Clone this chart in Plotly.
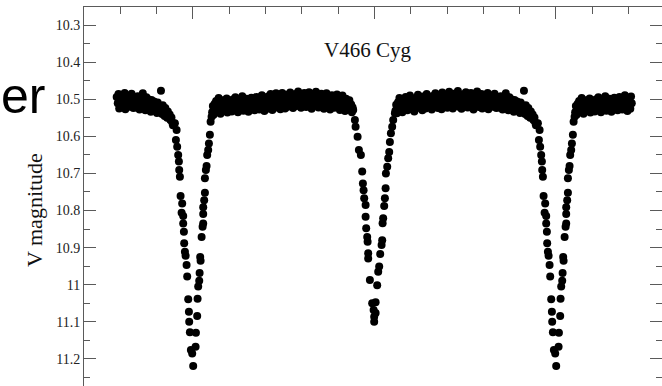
import plotly.graph_objects as go

# Phase-folded V-band light curve of the eclipsing binary V466 Cyg.
# Each list holds (orbital phase, V magnitude) pairs for one cycle; the
# plot repeats the cycle so phases -0.2 .. 1.2 are covered.

PRIMARY_ECLIPSE = [
    (-0.0496, 10.565), (-0.0449, 10.583), (-0.0468, 10.610), (-0.0433, 10.628),
    (-0.0405, 10.650), (-0.0386, 10.668), (-0.0377, 10.691), (-0.0358, 10.709),
    (-0.0339, 10.761), (-0.0295, 10.781), (-0.0311, 10.806), (-0.0267, 10.815),
    (-0.0267, 10.835), (-0.0248, 10.857), (-0.0240, 10.888), (-0.0220, 10.911),
    (-0.0201, 10.922), (-0.0174, 10.947), (-0.0157, 10.978), (-0.0129, 11.039),
    (-0.0110, 11.073), (-0.0102, 11.100), (-0.0083, 11.128), (-0.0055, 11.176),
    (-0.0019, 11.185), (0.0008, 11.219),
    (0.0074, 11.167), (0.0083, 11.129), (0.0118, 11.084), (0.0129, 11.038),
    (0.0146, 11.005), (0.0174, 10.989), (0.0185, 10.968), (0.0212, 10.935),
    (0.0201, 10.925), (0.0240, 10.871), (0.0267, 10.844), (0.0284, 10.835),
    (0.0284, 10.809), (0.0284, 10.791), (0.0311, 10.772), (0.0331, 10.752),
    (0.0331, 10.713), (0.0358, 10.691), (0.0377, 10.680), (0.0394, 10.650),
    (0.0421, 10.637), (0.0441, 10.619), (0.0468, 10.596), (0.0488, 10.561),
    (0.0515, 10.547),
]

SECONDARY_ECLIPSE = [
    (0.4416, 10.529), (0.4463, 10.556), (0.4482, 10.574), (0.4537, 10.601),
    (0.4573, 10.637), (0.4628, 10.650), (0.4664, 10.695), (0.4683, 10.727),
    (0.4702, 10.745), (0.4719, 10.767), (0.4758, 10.785), (0.4758, 10.817),
    (0.4774, 10.848), (0.4802, 10.871), (0.4813, 10.884), (0.4829, 10.915),
    (0.4829, 10.929), (0.4876, 10.987), (0.4939, 11.050), (0.4978, 11.068),
    (0.4994, 11.086), (0.4994, 11.100), (0.5033, 11.047), (0.5033, 11.076),
    (0.5077, 11.001), (0.5105, 10.965), (0.5132, 10.951), (0.5160, 10.917),
    (0.5198, 10.893), (0.5215, 10.880), (0.5226, 10.834), (0.5242, 10.821),
    (0.5270, 10.788), (0.5289, 10.767), (0.5309, 10.740), (0.5317, 10.700),
    (0.5353, 10.682), (0.5380, 10.659), (0.5408, 10.642), (0.5427, 10.615),
    (0.5455, 10.592), (0.5490, 10.574), (0.5518, 10.556), (0.5565, 10.538),
]

OUT_OF_ECLIPSE_A = [
    (0.053, 10.535), (0.055, 10.518), (0.057, 10.542), (0.060, 10.512), (0.062, 10.528),
    (0.064, 10.505), (0.067, 10.533), (0.069, 10.521), (0.071, 10.497), (0.074, 10.526),
    (0.076, 10.539), (0.078, 10.510), (0.081, 10.520), (0.083, 10.503), (0.086, 10.531),
    (0.088, 10.515), (0.090, 10.524), (0.093, 10.498), (0.095, 10.536), (0.097, 10.512),
    (0.100, 10.527), (0.102, 10.506), (0.105, 10.519), (0.107, 10.533), (0.110, 10.501),
    (0.112, 10.514), (0.114, 10.529), (0.117, 10.495), (0.119, 10.522), (0.122, 10.509),
    (0.124, 10.535), (0.127, 10.517), (0.129, 10.503), (0.131, 10.526), (0.134, 10.511),
    (0.136, 10.492), (0.139, 10.531), (0.141, 10.518), (0.144, 10.506), (0.146, 10.524),
    (0.148, 10.499), (0.151, 10.515), (0.153, 10.534), (0.156, 10.508), (0.158, 10.521),
    (0.161, 10.496), (0.163, 10.527), (0.165, 10.512), (0.168, 10.503), (0.170, 10.530),
    (0.173, 10.517), (0.175, 10.494), (0.178, 10.523), (0.180, 10.509), (0.183, 10.528),
    (0.185, 10.501), (0.187, 10.515), (0.190, 10.489), (0.192, 10.520), (0.195, 10.507),
    (0.197, 10.532), (0.200, 10.498), (0.202, 10.514), (0.205, 10.526), (0.207, 10.493),
    (0.209, 10.511), (0.212, 10.521), (0.214, 10.486), (0.217, 10.505), (0.219, 10.529),
    (0.222, 10.497), (0.224, 10.515), (0.227, 10.508), (0.229, 10.484), (0.232, 10.522),
    (0.234, 10.500), (0.236, 10.513), (0.239, 10.491), (0.241, 10.527), (0.244, 10.506),
    (0.246, 10.483), (0.249, 10.517), (0.251, 10.499), (0.254, 10.525), (0.256, 10.488),
    (0.259, 10.510), (0.261, 10.520), (0.263, 10.494), (0.266, 10.503), (0.268, 10.482),
    (0.271, 10.515), (0.273, 10.497), (0.276, 10.524), (0.278, 10.489), (0.281, 10.508),
    (0.283, 10.486), (0.285, 10.518), (0.288, 10.500), (0.290, 10.479), (0.293, 10.512),
    (0.295, 10.494), (0.298, 10.523), (0.300, 10.487), (0.302, 10.505), (0.305, 10.516),
    (0.307, 10.483), (0.310, 10.498), (0.312, 10.521), (0.315, 10.490), (0.317, 10.509),
    (0.320, 10.481), (0.322, 10.513), (0.324, 10.495), (0.327, 10.526), (0.329, 10.486),
    (0.332, 10.504), (0.334, 10.517), (0.337, 10.492), (0.339, 10.480), (0.342, 10.511),
    (0.344, 10.497), (0.346, 10.522), (0.349, 10.488), (0.351, 10.507), (0.354, 10.485),
    (0.356, 10.515), (0.359, 10.499), (0.361, 10.526), (0.363, 10.491), (0.366, 10.510),
    (0.368, 10.484), (0.371, 10.519), (0.373, 10.502), (0.376, 10.493), (0.378, 10.528),
    (0.380, 10.507), (0.383, 10.489), (0.385, 10.516), (0.388, 10.500), (0.390, 10.523),
    (0.393, 10.495), (0.395, 10.512), (0.397, 10.487), (0.400, 10.518), (0.402, 10.505),
    (0.405, 10.529), (0.407, 10.496), (0.410, 10.514), (0.412, 10.490), (0.414, 10.521),
    (0.417, 10.508), (0.419, 10.532), (0.422, 10.499), (0.424, 10.517), (0.426, 10.510),
    (0.429, 10.527), (0.431, 10.503), (0.433, 10.520), (0.436, 10.514), (0.438, 10.535),
    (0.440, 10.522),
]

OUT_OF_ECLIPSE_B = [
    (0.558, 10.531), (0.560, 10.515), (0.562, 10.538), (0.565, 10.508), (0.567, 10.524),
    (0.569, 10.497), (0.572, 10.529), (0.574, 10.512), (0.577, 10.535), (0.579, 10.503),
    (0.581, 10.519), (0.584, 10.526), (0.586, 10.494), (0.589, 10.513), (0.591, 10.530),
    (0.593, 10.506), (0.596, 10.521), (0.598, 10.490), (0.601, 10.516), (0.603, 10.527),
    (0.605, 10.501), (0.608, 10.518), (0.610, 10.533), (0.613, 10.497), (0.615, 10.511),
    (0.617, 10.524), (0.620, 10.488), (0.622, 10.509), (0.625, 10.522), (0.627, 10.500),
    (0.629, 10.515), (0.632, 10.530), (0.634, 10.493), (0.637, 10.512), (0.639, 10.505),
    (0.641, 10.525), (0.644, 10.486), (0.646, 10.518), (0.649, 10.502), (0.651, 10.520),
    (0.653, 10.495), (0.656, 10.513), (0.658, 10.528), (0.661, 10.491), (0.663, 10.507),
    (0.665, 10.521), (0.668, 10.484), (0.670, 10.510), (0.673, 10.499), (0.675, 10.524),
    (0.677, 10.489), (0.680, 10.514), (0.682, 10.503), (0.685, 10.527), (0.687, 10.482),
    (0.689, 10.509), (0.692, 10.518), (0.694, 10.496), (0.697, 10.512), (0.699, 10.487),
    (0.701, 10.523), (0.704, 10.501), (0.706, 10.480), (0.709, 10.516), (0.711, 10.493),
    (0.713, 10.508), (0.716, 10.525), (0.718, 10.485), (0.721, 10.504), (0.723, 10.517),
    (0.725, 10.490), (0.728, 10.511), (0.730, 10.478), (0.733, 10.520), (0.735, 10.498),
    (0.737, 10.507), (0.740, 10.526), (0.742, 10.487), (0.745, 10.513), (0.747, 10.495),
    (0.749, 10.519), (0.752, 10.481), (0.754, 10.506), (0.757, 10.522), (0.759, 10.492),
    (0.761, 10.510), (0.764, 10.500), (0.766, 10.483), (0.769, 10.517), (0.771, 10.496),
    (0.773, 10.528), (0.776, 10.488), (0.778, 10.509), (0.781, 10.515), (0.783, 10.479),
    (0.785, 10.503), (0.788, 10.521), (0.790, 10.494), (0.793, 10.511), (0.795, 10.486),
    (0.797, 10.525), (0.800, 10.499), (0.802, 10.514), (0.805, 10.490), (0.807, 10.519),
    (0.809, 10.505), (0.812, 10.483), (0.814, 10.527), (0.817, 10.497), (0.819, 10.512),
    (0.821, 10.491), (0.824, 10.520), (0.826, 10.503), (0.829, 10.516), (0.831, 10.485),
    (0.833, 10.508), (0.836, 10.524), (0.838, 10.496), (0.841, 10.513), (0.843, 10.502),
    (0.845, 10.522), (0.848, 10.492), (0.850, 10.510), (0.853, 10.528), (0.855, 10.498),
    (0.857, 10.515), (0.860, 10.505), (0.862, 10.484), (0.865, 10.521), (0.867, 10.508),
    (0.869, 10.530), (0.872, 10.495), (0.874, 10.517), (0.877, 10.500), (0.879, 10.523),
    (0.881, 10.511), (0.884, 10.534), (0.886, 10.502), (0.889, 10.519), (0.891, 10.527),
    (0.893, 10.506), (0.896, 10.522), (0.898, 10.513), (0.901, 10.537), (0.903, 10.509),
    (0.905, 10.525), (0.908, 10.518), (0.910, 10.533), (0.912, 10.477), (0.913, 10.528),
    (0.915, 10.540), (0.917, 10.516), (0.920, 10.531), (0.922, 10.545), (0.924, 10.524),
    (0.927, 10.538), (0.929, 10.550), (0.931, 10.533), (0.934, 10.547), (0.936, 10.541),
    (0.938, 10.556), (0.941, 10.549), (0.943, 10.562), (0.945, 10.570),
]

PHASE_SHOWN = (-0.21, 1.21)

X_MAJOR_TICKS = [-0.5, 0.0, 0.5, 1.0, 1.5]
X_MINOR_TICKS = [-0.3, -0.2, -0.1, 0.1, 0.2, 0.3, 0.4, 0.6, 0.7, 0.8, 0.9, 1.1, 1.2]

Y_TICK_VALUES = [10.3, 10.4, 10.5, 10.6, 10.7, 10.8, 10.9, 11.0, 11.1, 11.2]
Y_TICK_LABELS = ["10.3", "10.4", "10.5", "10.6", "10.7", "10.8", "10.9", "11", "11.1", "11.2"]
Y_MINOR_TICKS = [10.25, 10.35, 10.45, 10.55, 10.65, 10.75, 10.85, 10.95, 11.05, 11.15, 11.25]

TITLE = "V466 Cyg"
Y_LABEL = "V magnitude"

# Repeat the folded cycle one period either side and keep what falls in view.
phase, vmag = [], []
for ph, mag in PRIMARY_ECLIPSE + OUT_OF_ECLIPSE_A + SECONDARY_ECLIPSE + OUT_OF_ECLIPSE_B:
    for cycle in (-1, 0, 1):
        p = ph + cycle
        if PHASE_SHOWN[0] <= p <= PHASE_SHOWN[1]:
            phase.append(p)
            vmag.append(mag)

AXIS_GREY = "#5a5a5a"
SERIF = "Liberation Serif, Times New Roman, serif"

fig = go.Figure(
    go.Scatter(
        x=phase, y=vmag, mode="markers",
        marker=dict(size=8, color="black", line=dict(width=0)),
        hoverinfo="skip",
    )
)

fig.update_layout(
    width=662, height=386,
    margin=dict(l=84, r=0, t=7, b=0),
    paper_bgcolor="white", plot_bgcolor="white",
    showlegend=False,
    font=dict(family=SERIF, color="#222222"),
)

fig.update_xaxes(
    range=[-0.3, 1.2923], side="top",
    showline=True, linecolor=AXIS_GREY, linewidth=1, mirror=False,
    ticks="inside", ticklen=12, tickwidth=1, tickcolor=AXIS_GREY,
    tickmode="array", tickvals=X_MAJOR_TICKS, showticklabels=False,
    minor=dict(tickmode="array", tickvals=X_MINOR_TICKS, ticks="inside",
               ticklen=7, tickwidth=1, tickcolor=AXIS_GREY, showgrid=False),
    showgrid=False, zeroline=False,
)

fig.update_yaxes(
    range=[11.2728, 10.2515],
    showline=True, linecolor=AXIS_GREY, linewidth=1, mirror="ticks",
    ticks="inside", ticklen=12, tickwidth=1, tickcolor=AXIS_GREY,
    tickmode="array", tickvals=Y_TICK_VALUES, ticktext=Y_TICK_LABELS,
    tickfont=dict(family=SERIF, size=14, color="#222222"),
    minor=dict(tickmode="array", tickvals=Y_MINOR_TICKS, ticks="inside",
               ticklen=6, tickwidth=1, tickcolor=AXIS_GREY, showgrid=False),
    showgrid=False, zeroline=False,
)

fig.add_annotation(
    text=TITLE, xref="paper", yref="paper", x=0.4913, y=0.8865,
    xanchor="center", yanchor="middle", showarrow=False,
    font=dict(family=SERIF, size=21, color="#111111"),
)

fig.add_annotation(
    text=Y_LABEL, xref="paper", yref="paper", x=-0.0848, y=0.4644,
    xanchor="center", yanchor="middle", showarrow=False, textangle=-90,
    font=dict(family=SERIF, size=22, color="#111111"),
)

# Fragment of a slide heading that sits to the left of the chart.
fig.add_annotation(
    text="er", xref="paper", yref="paper", x=-0.064, y=0.765,
    xanchor="right", yanchor="middle", showarrow=False,
    font=dict(family="Liberation Sans, Arial, sans-serif", size=50, color="black"),
)

fig.write_html("out.html")
